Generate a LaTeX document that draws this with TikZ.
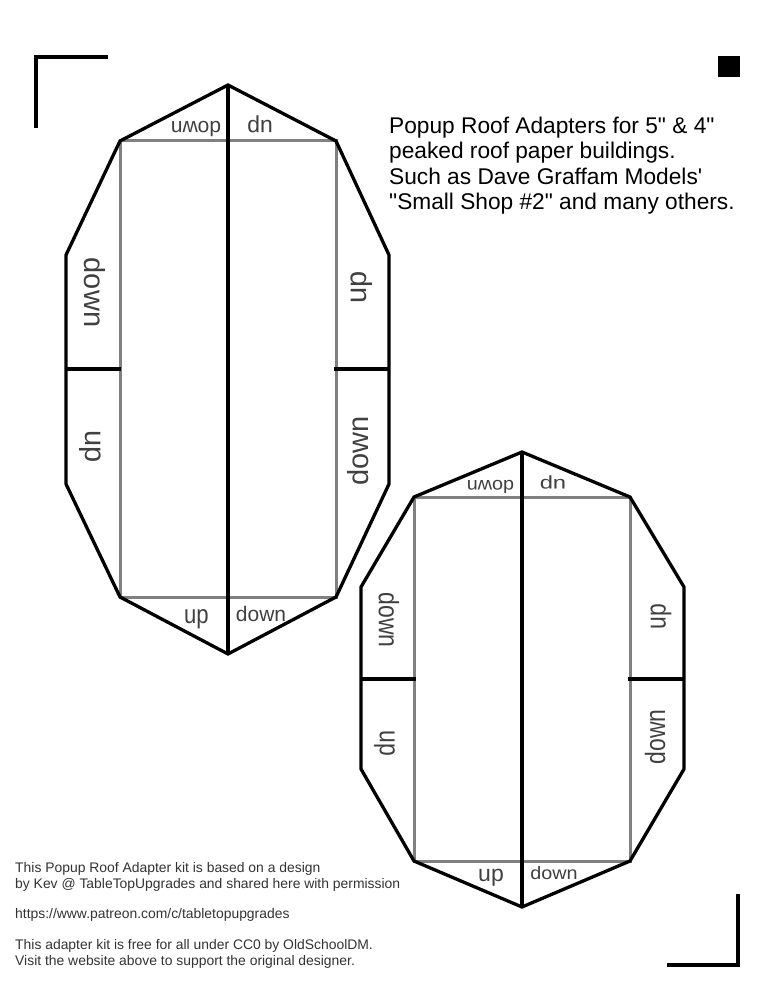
\documentclass[tikz,border=0pt]{standalone}
\usepackage{fontspec}
\setmainfont{Liberation Sans}
\newfontfamily\straightfont{Liberation Sans}
\usetikzlibrary{calc}

\tikzset{
  cutline/.style={line width=3.3pt, black, line join=miter},
  foldline/.style={line width=3pt, black!50},
  taglab/.style={text=black!75, inner sep=0pt, transform shape},
  biglab/.style={taglab, font=\fontsize{29}{30}\selectfont},
  midlab/.style={taglab, font=\fontsize{21}{24}\selectfont},
  uplab/.style={taglab, font=\fontsize{23}{26}\selectfont},
  sidelab/.style={taglab, font=\fontsize{28}{29}\selectfont, xscale=0.82},
  flatlab/.style={taglab, font=\fontsize{18}{20}\selectfont, xscale=1.1},
  notetext/.style={inner sep=0pt, anchor=north west, align=left, text=black!80,
    font=\fontsize{13.9}{16}\selectfont},
}

\begin{document}
\begin{tikzpicture}[x=1pt, y=-1pt]
  \useasboundingbox (0,0) rectangle (773,1000);

  % Marks at the corners
  \draw[cutline] (36,128) -- (36,57) -- (108,57);
  \draw[cutline] (667,965) -- (738,965) -- (738,894);
  \fill (718,56) rectangle (740,77);

  % Large adapter
  \draw[foldline] (120,141) rectangle (336,597);
  \draw[cutline] (228,85) -- (336,141) -- (389,255) -- (389,484) -- (336,597)
    -- (228,654) -- (120,597) -- (66,484) -- (66,255) -- (120,141) -- cycle;
  \draw[cutline] (228,85) -- (228,654);
  \draw[cutline] (66,369) -- (121,369);
  \draw[cutline] (334,369) -- (389,369);

  % Labels of the large adapter
  \node[rotate=180, midlab] (bigtopdown) at (196,129) {down};
  \node[rotate=180, uplab] (bigtopup) at (260,124.5) {up};
  \node[rotate=-90, biglab] (bigleftdown) at (95,292.5) {down};
  \node[rotate=-90, biglab] (bigleftup) at (90.5,447) {up};
  \node[rotate=90, biglab] (bigrightup) at (361.5,287) {up};
  \node[rotate=90, biglab] (bigrightdown) at (358.5,451) {down};
  \node[uplab, font=\fontsize{26}{28}\selectfont, xscale=0.85] (bigbottomup) at (196.5,619) {up};
  \node[midlab] (bigbottomdown) at (261,614) {down};

  % Small adapter
  \draw[foldline] (414,497) rectangle (630,861);
  \draw[cutline] (522,452) -- (630,497) -- (684,587) -- (684,769) -- (630,861)
    -- (522,907) -- (414,861) -- (361,769) -- (361,587) -- (414,497) -- cycle;
  \draw[cutline] (522,452) -- (522,907);
  \draw[cutline] (361,679) -- (416,679);
  \draw[cutline] (628,679) -- (684,679);

  % Labels of the small adapter
  \node[rotate=180, flatlab] (smalltopdown) at (490.5,486.5) {down};
  \node[rotate=180, flatlab, xscale=1.2] (smalltopup) at (553,482.5) {up};
  \node[rotate=-90, sidelab] (smallleftdown) at (389,620) {down};
  \node[rotate=-90, sidelab] (smallleftup) at (384.5,743) {up};
  \node[rotate=90, sidelab] (smallrightup) at (661,616.5) {up};
  \node[rotate=90, sidelab] (smallrightdown) at (655,737) {down};
  \node[uplab] (smallbottomup) at (491,878) {up};
  \node[flatlab] (smallbottomdown) at (554,873.5) {down};

  % Texts
  \node[inner sep=0pt, anchor=north west, align=left,
    font=\straightfont\fontsize{22.7}{25.3}\selectfont] (rooftitle) at (389,117)
    {Popup Roof Adapters for 5" \& 4"\\
     peaked roof paper buildings.\\
     Such as Dave Graffam Models'\\
     "Small Shop \#2" and many others.};
  \node[notetext] (kitnote) at (15,862)
    {This Popup Roof Adapter kit is based on a design\\
     by Kev @ TableTopUpgrades and shared here with permission};
  \node[notetext] (patreonnote) at (15,908)
    {https://www.patreon.com/c/tabletopupgrades};
  \node[notetext] (freenote) at (15,939.5)
    {This adapter kit is free for all under CC0 by OldSchoolDM.\\
     Visit the website above to support the original designer.};
\end{tikzpicture}
\end{document}
